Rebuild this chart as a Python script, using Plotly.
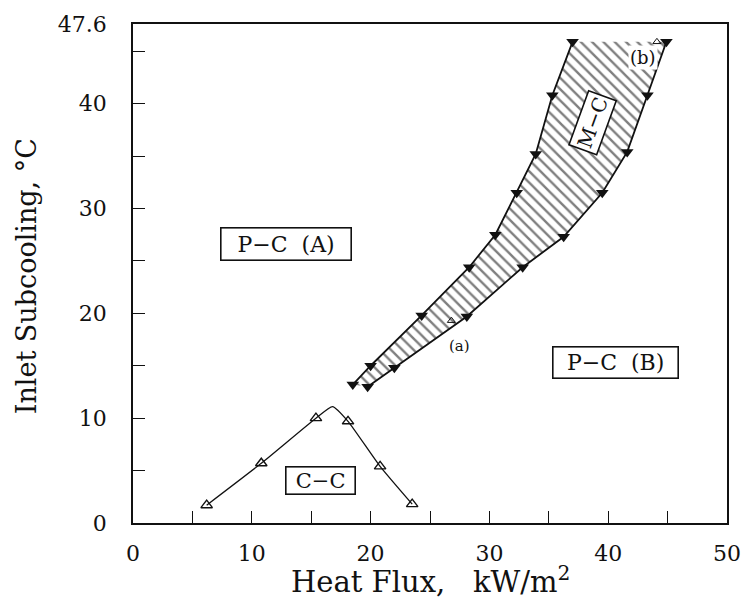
import plotly.graph_objects as go

# M-C region boundaries (filled down-triangles)
mc_left_x = [18.5, 20.0, 24.3, 28.3, 30.5, 32.3, 33.9, 35.3, 37.0]
mc_left_y = [13.2, 15.0, 19.8, 24.4, 27.5, 31.5, 35.2, 40.8, 45.9]
mc_right_x = [19.75, 22.0, 28.1, 32.8, 36.25, 39.5, 41.6, 43.3, 44.9]
mc_right_y = [13.0, 14.8, 19.7, 24.4, 27.3, 31.5, 35.4, 40.8, 45.9]

# C-C boundary (open up-triangles) and the curve through them
cc_x = [6.2, 10.8, 15.4, 18.1, 20.8, 23.5]
cc_y = [1.7, 5.7, 10.0, 9.7, 5.4, 1.8]
cc_curve_x = [6.2, 10.8, 15.4, 16.8, 18.1, 20.8, 23.5]
cc_curve_y = [1.7, 5.7, 10.0, 11.1, 9.7, 5.4, 1.8]

# special open points (a) and (b)
special_x = [26.8, 44.1]
special_y = [19.3, 45.9]

x_ticks = [0, 5, 10, 15, 20, 25, 30, 35, 40, 45, 50]
x_ticktext = ["0", "", "10", "", "20", "", "30", "", "40", "", "50"]
y_ticks = [0, 5, 10, 15, 20, 25, 30, 35, 40, 45, 47.6]
y_ticktext = ["0", "", "10", "", "20", "", "30", "", "40", "", "47.6"]

FONT = "DejaVu Serif"
INK = "#111111"

fig = go.Figure()

# hatched M-C polygon
fig.add_trace(go.Scatter(
    x=mc_left_x + mc_right_x[::-1],
    y=mc_left_y + mc_right_y[::-1],
    mode="lines", fill="toself", line=dict(width=0),
    fillcolor="white",
    fillpattern=dict(shape="\\", size=8, solidity=0.3, fgcolor="#000000", bgcolor="white"),
    hoverinfo="skip", showlegend=False))

for xs, ys in [(mc_left_x, mc_left_y), (mc_right_x, mc_right_y)]:
    fig.add_trace(go.Scatter(
        x=xs, y=ys, mode="lines+markers",
        line=dict(color=INK, width=1.8),
        marker=dict(symbol="triangle-down", size=11, color=INK),
        showlegend=False))

fig.add_trace(go.Scatter(
    x=special_x, y=special_y, mode="markers",
    marker=dict(symbol="triangle-up-open", size=7, color=INK, line=dict(width=1)),
    showlegend=False))

fig.add_trace(go.Scatter(
    x=cc_curve_x, y=cc_curve_y, mode="lines",
    line=dict(color=INK, width=1.3, shape="spline", smoothing=0.5),
    showlegend=False))
fig.add_trace(go.Scatter(
    x=cc_x, y=cc_y, mode="markers",
    marker=dict(symbol="triangle-up-open", size=10, color=INK, line=dict(width=1.4)),
    showlegend=False))

def box(text, x, y, size, w, h, angle=0):
    fig.add_annotation(x=x, y=y, xref="x", yref="y", text=text, showarrow=False,
                       font=dict(family=FONT, size=size, color=INK),
                       width=w, height=h, align="center", valign="middle",
                       bordercolor=INK, borderwidth=1.6, borderpad=2,
                       bgcolor="white", textangle=angle)

box("P\u2212C\u00a0\u00a0(A)", 12.9, 26.6, 22, 125, 27)
box("P\u2212C\u00a0\u00a0(B)", 40.6, 15.3, 22, 120, 26)
box("C\u2212C", 15.75, 4.1, 21, 64, 22)
box("M\u2212C", 38.7, 38.2, 20, 52, 24, angle=-70)

fig.add_annotation(x=27.5, y=16.9, text="(a)", showarrow=False,
                   font=dict(family=FONT, size=15, color=INK))
fig.add_annotation(x=42.9, y=44.4, text="(b)", showarrow=False, bgcolor="white",
                   font=dict(family=FONT, size=18, color=INK))

# axis titles
fig.add_annotation(x=0.5, y=-0.115, xref="paper", yref="paper",
                   text="Heat\u00a0Flux,\u00a0\u00a0\u00a0kW/m<sup>2</sup>", showarrow=False,
                   xanchor="center", yanchor="middle",
                   font=dict(family=FONT, size=29, color=INK))
fig.add_annotation(x=-0.178, y=0.495, xref="paper", yref="paper",
                   text="Inlet Subcooling, \u00b0C", showarrow=False, textangle=-90,
                   xanchor="center", yanchor="middle",
                   font=dict(family=FONT, size=27, color=INK))

axis_common = dict(showline=True, linecolor=INK, linewidth=1.7, mirror=True,
                   ticks="inside", ticklen=12, tickwidth=1.4, tickcolor=INK,
                   showgrid=False, zeroline=False,
                   tickfont=dict(family=FONT, size=22, color=INK))

fig.update_xaxes(range=[0, 50], tickvals=x_ticks, ticktext=x_ticktext,
                 ticklabelstandoff=10, **axis_common)
fig.update_yaxes(range=[0, 47.6], tickvals=y_ticks, ticktext=y_ticktext,
                 ticklabelstandoff=20, **axis_common)

fig.update_layout(width=753, height=608,
                  margin=dict(l=133, r=20, t=16, b=85),
                  paper_bgcolor="white", plot_bgcolor="white",
                  showlegend=False)

fig.write_html("out.html")
